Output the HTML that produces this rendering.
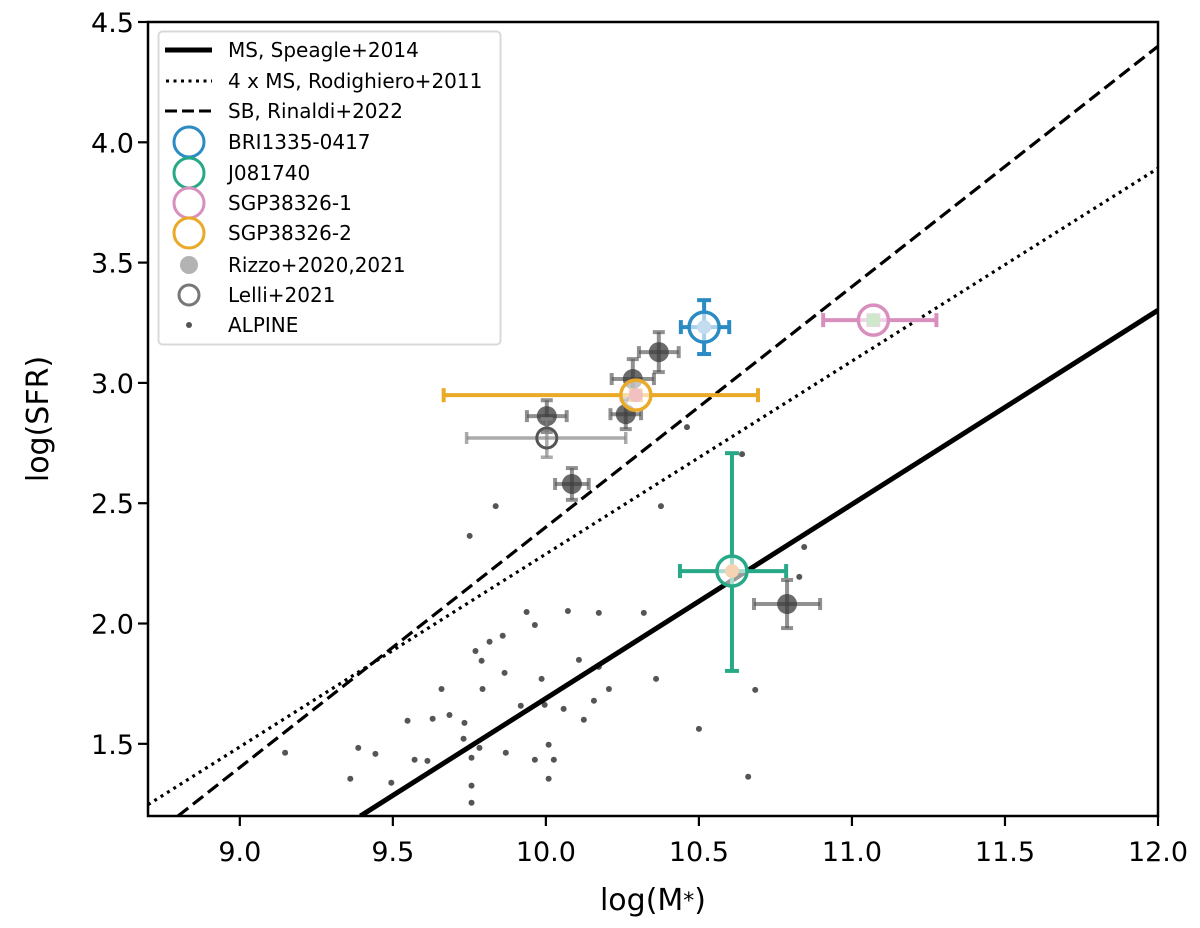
<!DOCTYPE html>
<html><head><meta charset="utf-8"><style>
html,body{margin:0;padding:0;background:#fff;}
svg{display:block;font-family:"DejaVu Sans","Liberation Sans",sans-serif;}
</style></head><body>
<svg id="chart" width="1200" height="928" viewBox="0 0 1200 928" xmlns="http://www.w3.org/2000/svg">
<defs><clipPath id="clip"><rect x="148" y="22" width="1010" height="794"/></clipPath></defs>
<g id="plot" clip-path="url(#clip)"></g>
<rect x="148" y="22" width="1010" height="794" fill="none" stroke="#000" stroke-width="2.5"/>
<g id="axes"></g>
<text x="653" y="910" font-size="30" text-anchor="middle">log(M<tspan font-size="22" dy="-2">*</tspan><tspan dy="2">)</tspan></text>
<text x="0" y="0" font-size="30" text-anchor="middle" transform="translate(48,419) rotate(-90)">log(SFR)</text>
<g id="legend"></g>
</svg>
<script>
const xTicks=[9.0,9.5,10.0,10.5,11.0,11.5,12.0];
const yTicks=[1.5,2.0,2.5,3.0,3.5,4.0,4.5];
const xDomain=[8.7,12.0];
const yDomain=[1.2,4.5];
// relations: endpoints in data units
const msX=[9.394,12.0], msY=[1.2,3.302];
const rodX=[8.7,12.0], rodY=[1.247,3.892];
const sbX=[8.798,12.0], sbY=[1.2,4.399];
// ALPINE
const alpX=[9.148,9.387,9.443,9.571,9.361,9.495,9.548,9.836,9.751,10.461,10.641,10.376,10.844,10.828,9.937,10.072,10.173,10.320,9.964,9.859,9.816,9.770,9.790,9.865,10.108,10.173,9.659,9.793,9.986,10.206,10.360,10.684,9.630,9.685,9.734,9.918,9.996,10.058,10.157,10.124,10.500,9.731,9.783,9.757,9.869,10.009,9.964,10.026,9.613,10.661,10.009,9.757,9.757];
const alpY=[1.463,1.483,1.458,1.434,1.355,1.338,1.596,2.488,2.364,2.816,2.704,2.488,2.318,2.194,2.048,2.052,2.044,2.044,1.994,1.949,1.924,1.886,1.845,1.795,1.849,1.820,1.728,1.728,1.770,1.728,1.770,1.724,1.604,1.620,1.587,1.658,1.662,1.645,1.679,1.600,1.562,1.521,1.483,1.442,1.463,1.496,1.434,1.434,1.429,1.363,1.355,1.326,1.255];
// Rizzo
const rizX=[10.369,10.284,10.261,10.003,10.085,10.788];
const rizY=[3.128,3.016,2.870,2.862,2.580,2.081];
const rizXerr=[0.065,0.069,0.05,0.065,0.055,0.108];
const rizYerr=[0.083,0.083,0.062,0.066,0.066,0.1];
// Lelli
const lelX=[10.003], lelY=[2.771], lelXlo=[0.262], lelXhi=[0.258], lelYerr=[0.08];
// targets
const tgtNames=["BRI1335-0417","J081740","SGP38326-1","SGP38326-2"];
const tgtX=[10.517,10.608,11.07,10.294];
const tgtY=[3.232,2.218,3.261,2.949];
const tgtXlo=[0.076,0.17,0.164,0.628];
const tgtXhi=[0.082,0.177,0.206,0.399];
const tgtYlo=[0.112,0.415,0.02,0.02];
const tgtYhi=[0.112,0.49,0.02,0.02];
const tgtColors=["#2b8cc4","#27a886","#d88fbd","#eaa926"];
const tgtFill=["#c3dcef","#f6d3b2","#cde8cb","#f2c0c0"];

const L=148,R=1158,T=22,B=816;
const sx=v=>L+(v-xDomain[0])/(xDomain[1]-xDomain[0])*(R-L);
const sy=v=>B-(v-yDomain[0])/(yDomain[1]-yDomain[0])*(B-T);
const NS="http://www.w3.org/2000/svg";
function mk(parent,tag,attrs){const e=document.createElementNS(NS,tag);for(const k in attrs)e.setAttribute(k,attrs[k]);parent.appendChild(e);return e;}
const plot=document.getElementById('plot'),axes=document.getElementById('axes'),leg=document.getElementById('legend');

xTicks.forEach(t=>{
  const g=mk(axes,'g',{});
  
  
  mk(g,'line',{x1:sx(t),x2:sx(t),y1:B,y2:B+10,stroke:'#000','stroke-width':2.2});
  const tx=mk(g,'text',{x:sx(t),y:B+45,'font-size':27,'text-anchor':'middle'});tx.textContent=t.toFixed(1);
});
yTicks.forEach(t=>{
  const g=mk(axes,'g',{});
  
  
  mk(g,'line',{x1:L-10,x2:L,y1:sy(t),y2:sy(t),stroke:'#000','stroke-width':2.2});
  const tx=mk(g,'text',{x:L-14,y:sy(t)+10,'font-size':27,'text-anchor':'end'});tx.textContent=t.toFixed(1);
});

// ALPINE
alpX.forEach((x,i)=>{
  const c=mk(plot,'circle',{cx:sx(x),cy:sy(alpY[i]),r:3,fill:'#555'});
  
  
});
// lines
function relLine(xs,ys,w,dash,name){
  const l=mk(plot,'line',{x1:sx(xs[0]),y1:sy(ys[0]),x2:sx(xs[1]),y2:sy(ys[1]),stroke:'#000','stroke-width':w,'stroke-dasharray':dash});
  
  
}
relLine(msX,msY,5,'none','ms-speagle-line');
relLine(rodX,rodY,3.2,'3 4.5','rodighiero-4xms-line');
relLine(sbX,sbY,3.2,'13 6','sb-rinaldi-line');

function errbar(g,cx,cy,x0,x1,y0,y1,col,w,cap,op){
  const s={stroke:col,'stroke-width':w,'stroke-opacity':op};
  mk(g,'line',Object.assign({x1:x0,x2:x1,y1:cy,y2:cy},s));
  mk(g,'line',Object.assign({x1:cx,x2:cx,y1:y0,y2:y1},s));
  mk(g,'line',Object.assign({x1:x0,x2:x0,y1:cy-cap,y2:cy+cap},s));
  mk(g,'line',Object.assign({x1:x1,x2:x1,y1:cy-cap,y2:cy+cap},s));
  mk(g,'line',Object.assign({x1:cx-cap,x2:cx+cap,y1:y0,y2:y0},s));
  mk(g,'line',Object.assign({x1:cx-cap,x2:cx+cap,y1:y1,y2:y1},s));
}
// Rizzo
rizX.forEach((x,i)=>{
  const g=mk(plot,'g',{});
  
  
  const cx=sx(x),cy=sy(rizY[i]);
  errbar(g,cx,cy,sx(x-rizXerr[i]),sx(x+rizXerr[i]),sy(rizY[i]+rizYerr[i]),sy(rizY[i]-rizYerr[i]),'#555',4,6,0.65);
  mk(g,'circle',{cx:cx,cy:cy,r:10,fill:'#3a3a3a','fill-opacity':0.75});
});
// Lelli
lelX.forEach((x,i)=>{
  const g=mk(plot,'g',{});
  
  
  const cx=sx(x),cy=sy(lelY[i]);
  errbar(g,cx,cy,sx(x-lelXlo[i]),sx(x+lelXhi[i]),sy(lelY[i]+lelYerr[i]),sy(lelY[i]-lelYerr[i]),'#888',3.5,6,0.7);
  mk(g,'circle',{cx:cx,cy:cy,r:10,fill:'none',stroke:'#555','stroke-width':3});
});
// targets
tgtX.forEach((x,i)=>{
  const g=mk(plot,'g',{});
  
  
  const cx=sx(x),cy=sy(tgtY[i]);
  errbar(g,cx,cy,sx(x-tgtXlo[i]),sx(x+tgtXhi[i]),sy(tgtY[i]+tgtYhi[i]),sy(tgtY[i]-tgtYlo[i]),tgtColors[i],4,7,1);
  mk(g,'circle',{cx:cx,cy:cy,r:15,fill:'#fff','fill-opacity':0.6,stroke:tgtColors[i],'stroke-width':3.5});
  mk(g,'circle',{cx:cx,cy:cy,r:7,fill:tgtFill[i]});
});

// legend
mk(leg,'rect',{x:158.5,y:31.5,width:342,height:313,rx:4,fill:'#fff','fill-opacity':0.85,stroke:'#d9d9d9','stroke-width':2});
const legLabels=["MS, Speagle+2014","4 x MS, Rodighiero+2011","SB, Rinaldi+2022","BRI1335-0417","J081740","SGP38326-1","SGP38326-2","Rizzo+2020,2021","Lelli+2021","ALPINE"];
const rowY=[50,81,111,142,173,203,233,265,295,325];
legLabels.forEach((lab,i)=>{
  const g=mk(leg,'g',{});
  
  
  const y=rowY[i];
  if(i===0) mk(g,'line',{x1:165,x2:212,y1:y,y2:y,stroke:'#000','stroke-width':5});
  if(i===1) mk(g,'line',{x1:166,x2:212,y1:y,y2:y,stroke:'#000','stroke-width':3,'stroke-dasharray':'3 4.5'});
  if(i===2) mk(g,'line',{x1:165,x2:212,y1:y,y2:y,stroke:'#000','stroke-width':3,'stroke-dasharray':'12 5'});
  if(i>=3&&i<=6) mk(g,'circle',{cx:189,cy:y,r:15,fill:'none',stroke:tgtColors[i-3],'stroke-width':3});
  if(i===7) mk(g,'circle',{cx:189,cy:y,r:9,fill:'#b3b3b3'});
  if(i===8) mk(g,'circle',{cx:189,cy:y,r:10,fill:'none',stroke:'#777','stroke-width':3});
  if(i===9) mk(g,'circle',{cx:189,cy:y,r:3,fill:'#555'});
  const t=mk(g,'text',{x:228,y:y+7,'font-size':20});t.textContent=lab;
});
</script>
</body></html>
